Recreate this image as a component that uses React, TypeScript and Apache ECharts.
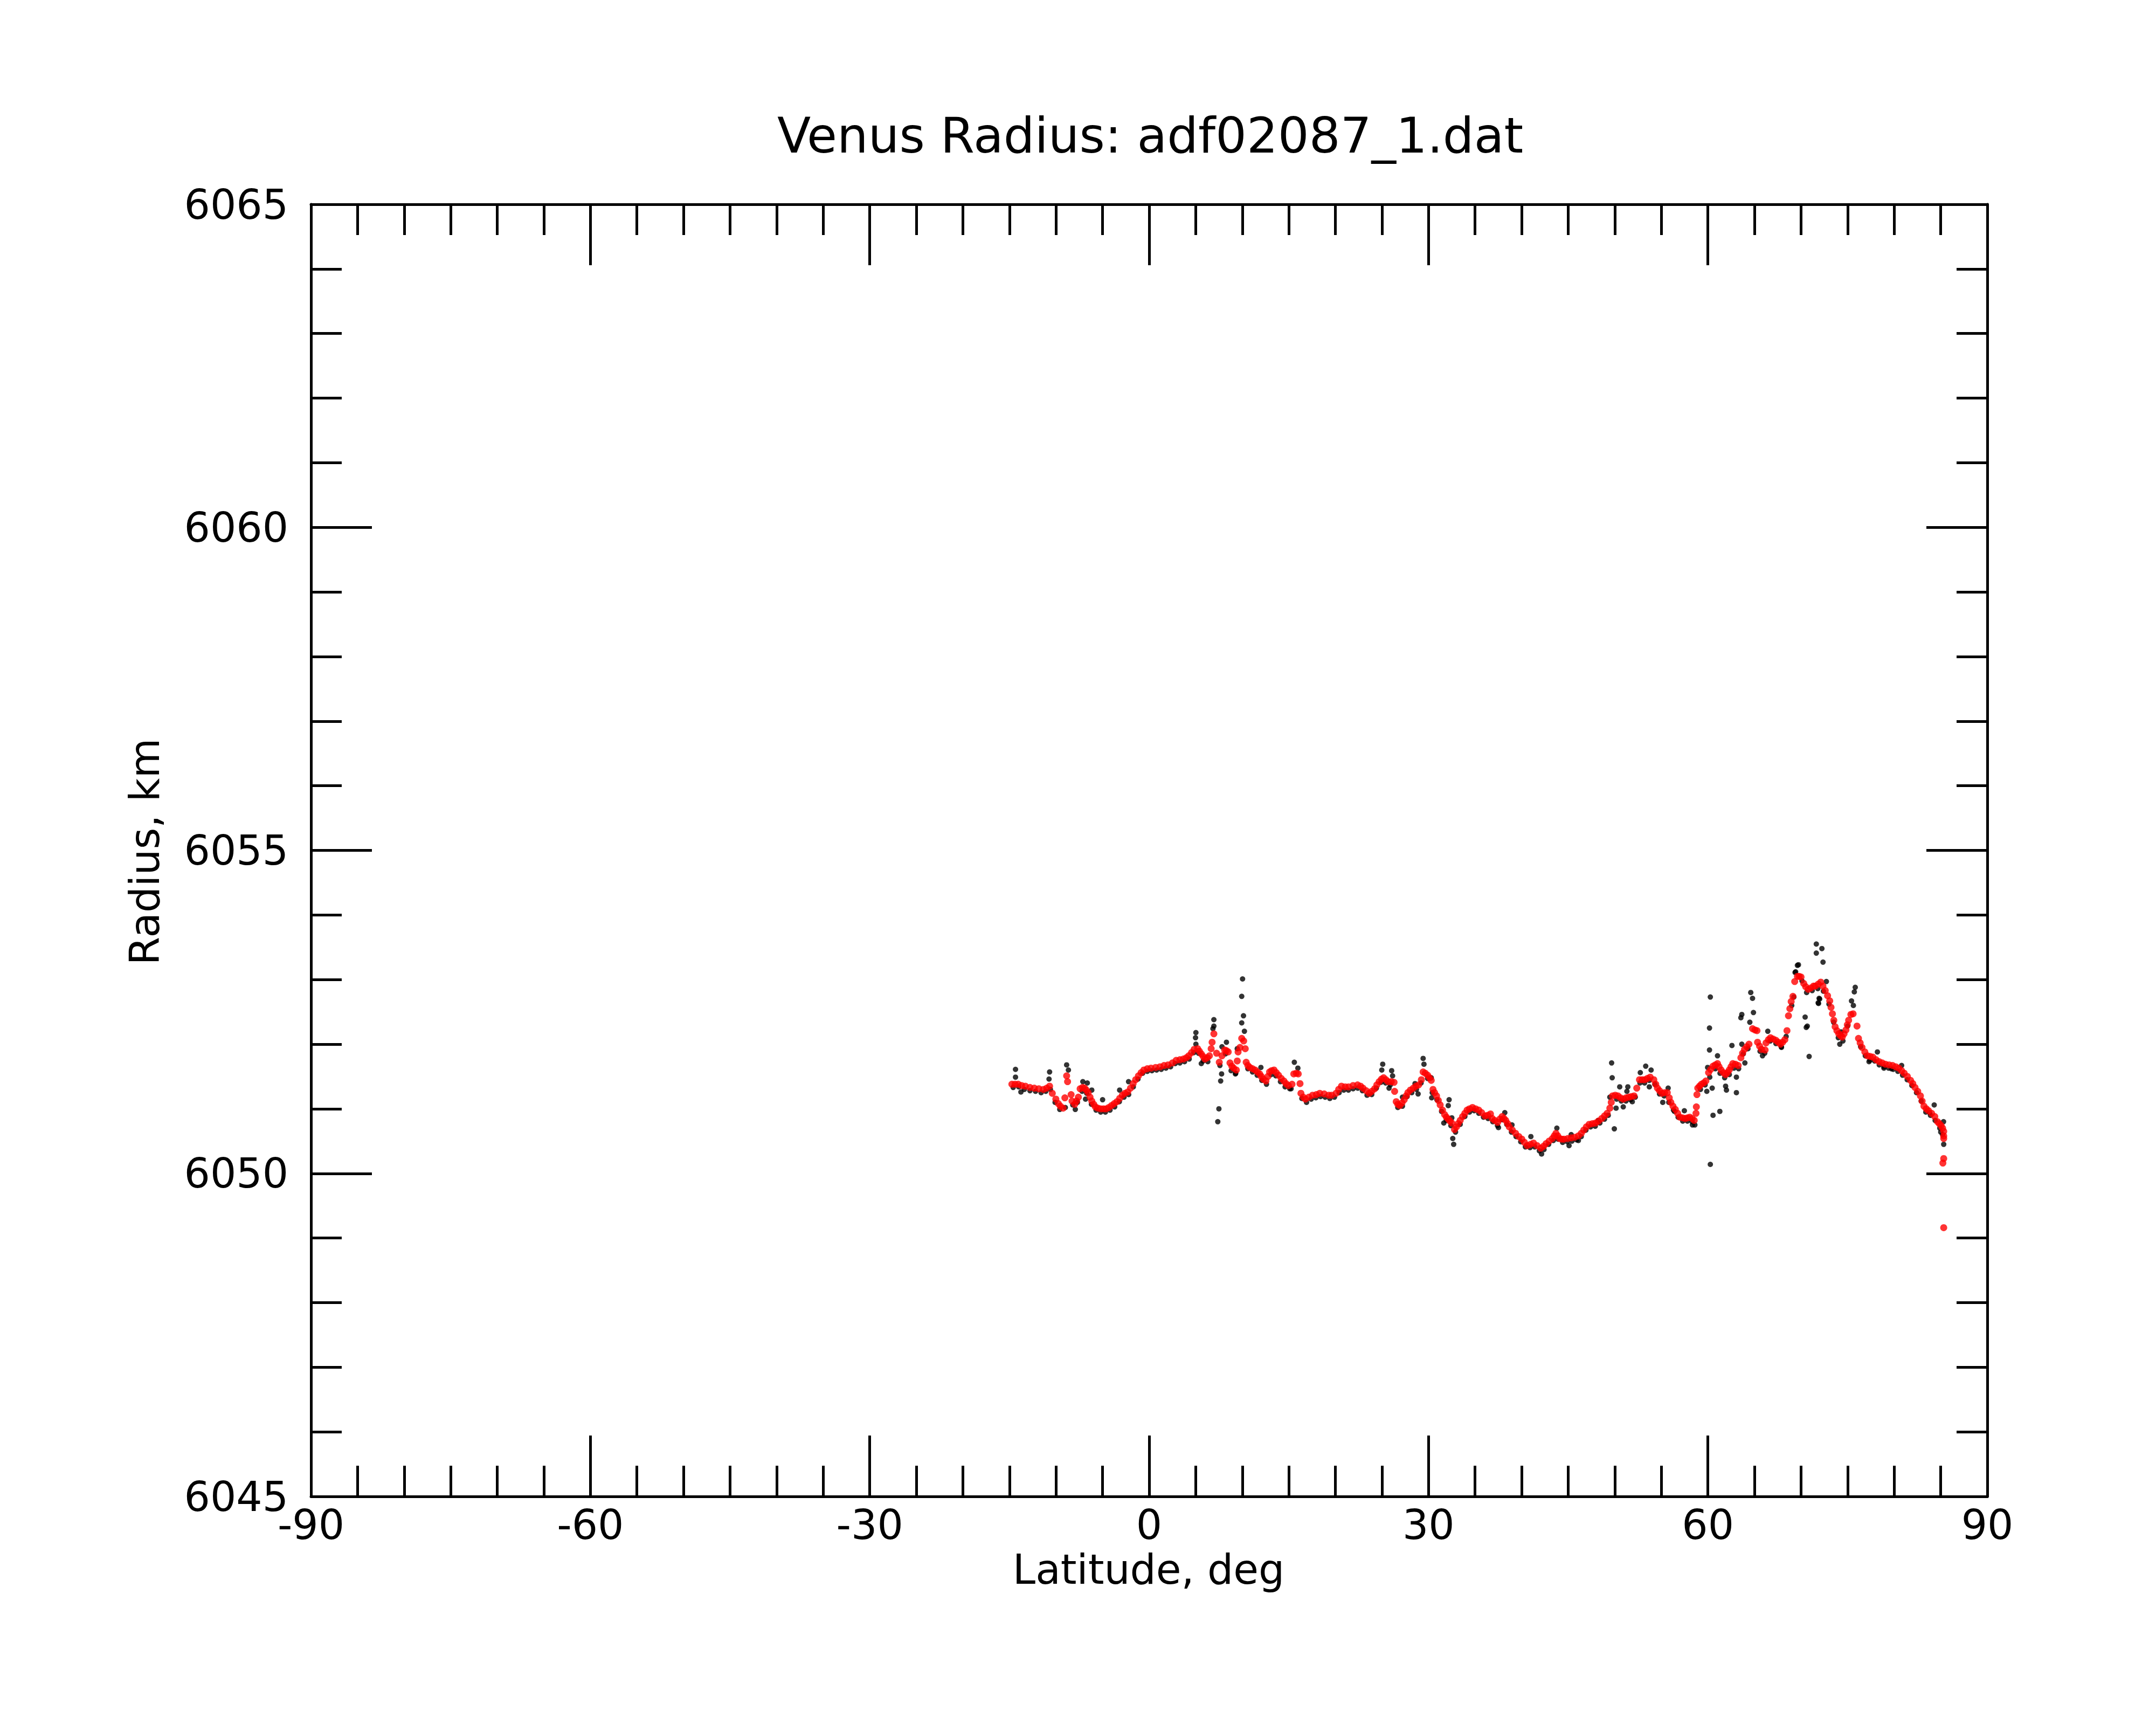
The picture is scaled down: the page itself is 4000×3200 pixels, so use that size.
import React, { useEffect, useRef } from "react";
import * as echarts from "echarts";

// Smoothed radius profile (red), [latitude deg, radius km]
const smoothed: [number, number][] = [
  [-14.74, 6051.38], [-14.4, 6051.38], [-14.06, 6051.38], [-13.7, 6051.36], [-13.29, 6051.35],
  [-12.8, 6051.33], [-12.33, 6051.32], [-11.85, 6051.31], [-11.36, 6051.3], [-11.0, 6051.32],
  [-10.69, 6051.35], [-10.4, 6051.24], [-10.02, 6051.15], [-9.75, 6051.08], [-9.53, 6051.04],
  [-9.24, 6051.01], [-9.05, 6051.17], [-8.86, 6051.51], [-8.76, 6051.42], [-8.38, 6051.22],
  [-8.28, 6051.12], [-7.99, 6051.07], [-7.8, 6051.12], [-7.6, 6051.18], [-7.41, 6051.31],
  [-7.15, 6051.33], [-6.93, 6051.32], [-6.75, 6051.29], [-6.55, 6051.25], [-6.35, 6051.18],
  [-6.16, 6051.12], [-5.95, 6051.07], [-5.77, 6051.03], [-5.5, 6051.01], [-5.2, 6051.0],
  [-4.9, 6051.0], [-4.62, 6051.0], [-4.33, 6051.02], [-4.04, 6051.05], [-3.75, 6051.08],
  [-3.46, 6051.11], [-3.17, 6051.16], [-2.88, 6051.21], [-2.6, 6051.24], [-2.3, 6051.26],
  [-2.0, 6051.32], [-1.72, 6051.39], [-1.45, 6051.45], [-1.15, 6051.51], [-0.86, 6051.56],
  [-0.57, 6051.6], [-0.2, 6051.62], [0.2, 6051.63], [0.7, 6051.64], [1.17, 6051.65],
  [1.6, 6051.67], [2.03, 6051.68], [2.5, 6051.71], [2.9, 6051.75], [3.3, 6051.76],
  [3.67, 6051.77], [4.0, 6051.79], [4.25, 6051.82], [4.55, 6051.87], [4.83, 6051.92],
  [5.21, 6051.93], [5.4, 6051.89], [5.6, 6051.85], [5.8, 6051.81], [5.99, 6051.77],
  [6.25, 6051.79], [6.47, 6051.82], [6.66, 6051.93], [6.76, 6052.03], [6.95, 6052.16],
  [7.24, 6051.86], [7.53, 6051.72], [7.82, 6051.82], [8.11, 6051.91], [8.3, 6051.9],
  [8.49, 6051.88], [8.68, 6051.71], [8.88, 6051.66], [9.07, 6051.63], [9.36, 6051.6],
  [9.46, 6051.74], [9.55, 6051.88], [9.75, 6051.95], [9.94, 6052.09], [10.15, 6052.05],
  [10.32, 6051.93], [10.42, 6051.72], [10.6, 6051.67], [10.81, 6051.64], [11.1, 6051.62],
  [11.38, 6051.6], [11.62, 6051.57], [11.87, 6051.54], [12.05, 6051.5], [12.25, 6051.46],
  [12.54, 6051.43], [12.75, 6051.5], [12.93, 6051.57], [13.15, 6051.59], [13.41, 6051.6],
  [13.65, 6051.56], [13.89, 6051.52], [14.18, 6051.47], [14.47, 6051.43], [14.7, 6051.39],
  [14.95, 6051.36], [15.34, 6051.38], [15.53, 6051.54], [15.8, 6051.55], [16.01, 6051.54],
  [16.2, 6051.39], [16.3, 6051.24], [16.55, 6051.18], [16.78, 6051.15], [17.15, 6051.18],
  [17.55, 6051.21], [17.95, 6051.22], [18.32, 6051.24], [18.8, 6051.23], [19.29, 6051.21],
  [19.6, 6051.21], [20.07, 6051.24], [20.35, 6051.3], [20.65, 6051.35], [21.05, 6051.34],
  [21.42, 6051.34], [21.9, 6051.36], [22.38, 6051.37], [22.7, 6051.35], [22.96, 6051.32],
  [23.3, 6051.28], [23.63, 6051.24], [23.9, 6051.27], [24.21, 6051.31], [24.45, 6051.37],
  [24.7, 6051.42], [24.95, 6051.46], [25.18, 6051.48], [25.42, 6051.45], [25.66, 6051.42],
  [26.0, 6051.42], [26.3, 6051.41], [26.36, 6051.27], [26.53, 6051.11], [26.7, 6051.07],
  [26.91, 6051.05], [27.15, 6051.09], [27.39, 6051.14], [27.6, 6051.2], [27.78, 6051.25],
  [28.05, 6051.29], [28.36, 6051.32], [28.65, 6051.35], [28.94, 6051.37], [29.23, 6051.45],
  [29.42, 6051.57], [29.65, 6051.55], [29.9, 6051.52], [30.1, 6051.48], [30.29, 6051.44],
  [30.48, 6051.3], [30.65, 6051.25], [30.86, 6051.2], [31.05, 6051.13], [31.25, 6051.06],
  [31.5, 6050.98], [31.73, 6050.91], [31.92, 6050.87], [32.12, 6050.84], [32.3, 6050.81],
  [32.5, 6050.78], [32.79, 6050.68], [33.0, 6050.72], [33.18, 6050.77], [33.4, 6050.82],
  [33.66, 6050.88], [33.9, 6050.93], [34.14, 6050.98], [34.4, 6051.0], [34.72, 6051.02],
  [35.05, 6051.0], [35.39, 6050.98], [35.7, 6050.94], [36.07, 6050.89], [36.35, 6050.9],
  [36.65, 6050.92], [36.84, 6050.85], [37.1, 6050.82], [37.42, 6050.79], [37.65, 6050.84],
  [37.9, 6050.88], [38.1, 6050.85], [38.29, 6050.82], [38.5, 6050.77], [38.67, 6050.72],
  [39.0, 6050.67], [39.35, 6050.62], [39.7, 6050.57], [40.02, 6050.53], [40.3, 6050.48],
  [40.6, 6050.43], [40.95, 6050.45], [41.27, 6050.47], [41.65, 6050.43], [42.05, 6050.39],
  [42.35, 6050.42], [42.62, 6050.46], [42.95, 6050.5], [43.3, 6050.54], [43.5, 6050.58],
  [43.68, 6050.62], [43.88, 6050.58], [44.07, 6050.54], [44.3, 6050.53], [44.55, 6050.53],
  [44.95, 6050.54], [45.32, 6050.55], [45.7, 6050.56], [46.09, 6050.58], [46.4, 6050.62],
  [46.67, 6050.67], [46.95, 6050.72], [47.25, 6050.76], [47.6, 6050.77], [47.93, 6050.78],
  [48.25, 6050.81], [48.6, 6050.85], [48.9, 6050.89], [49.18, 6050.93], [49.47, 6051.01],
  [49.62, 6051.1], [49.76, 6051.2], [50.05, 6051.21], [50.34, 6051.2], [50.62, 6051.17],
  [50.91, 6051.15], [51.2, 6051.17], [51.49, 6051.18], [51.78, 6051.19], [52.07, 6051.2],
  [52.36, 6051.32], [52.65, 6051.45], [52.95, 6051.45], [53.23, 6051.45], [53.5, 6051.47],
  [53.8, 6051.49], [54.19, 6051.45], [54.4, 6051.38], [54.58, 6051.32], [54.8, 6051.28],
  [55.06, 6051.24], [55.35, 6051.25], [55.64, 6051.25], [55.85, 6051.17], [56.02, 6051.1],
  [56.25, 6051.04], [56.5, 6050.99], [56.75, 6050.93], [56.99, 6050.87], [57.28, 6050.86],
  [57.56, 6050.85], [57.8, 6050.86], [58.05, 6050.87], [58.3, 6050.85], [58.53, 6050.82],
  [58.72, 6050.93], [58.76, 6051.03], [58.82, 6051.22], [58.91, 6051.32], [59.1, 6051.35],
  [59.3, 6051.38], [59.55, 6051.4], [59.78, 6051.43], [60.07, 6051.56], [60.3, 6051.61],
  [60.55, 6051.66], [60.8, 6051.68], [61.03, 6051.7], [61.2, 6051.65], [61.42, 6051.6],
  [61.65, 6051.56], [61.9, 6051.53], [62.1, 6051.56], [62.29, 6051.6], [62.48, 6051.65],
  [62.67, 6051.7], [62.95, 6051.69], [63.25, 6051.67], [63.54, 6051.79], [63.72, 6051.86],
  [63.93, 6051.92], [64.17, 6051.96], [64.41, 6052.0], [64.79, 6052.24], [65.05, 6052.22],
  [65.27, 6052.21], [65.33, 6052.03], [65.55, 6051.97], [65.76, 6051.92], [66.14, 6051.91],
  [66.24, 6052.02], [66.5, 6052.07], [66.72, 6052.1], [67.0, 6052.08], [67.3, 6052.06],
  [67.55, 6052.03], [67.78, 6052.0], [68.02, 6052.03], [68.26, 6052.07], [68.49, 6052.21],
  [68.65, 6052.44], [68.8, 6052.55], [68.94, 6052.66], [69.13, 6052.74], [69.32, 6052.97],
  [69.61, 6053.05], [69.8, 6053.05], [70.0, 6053.04], [70.29, 6052.94], [70.5, 6052.89],
  [70.77, 6052.85], [71.05, 6052.87], [71.35, 6052.9], [71.54, 6052.9], [71.85, 6052.93],
  [72.12, 6052.96], [72.35, 6052.9], [72.6, 6052.83], [72.85, 6052.75], [73.08, 6052.67],
  [73.22, 6052.57], [73.37, 6052.47], [73.52, 6052.37], [73.66, 6052.27], [73.85, 6052.21],
  [74.05, 6052.16], [74.25, 6052.13], [74.43, 6052.11], [74.62, 6052.16], [74.82, 6052.22],
  [74.97, 6052.3], [75.11, 6052.37], [75.35, 6052.46], [75.59, 6052.47], [76.01, 6052.28],
  [76.17, 6052.09], [76.35, 6052.02], [76.55, 6051.95], [76.85, 6051.88], [77.13, 6051.82],
  [77.42, 6051.81], [77.71, 6051.8], [78.05, 6051.76], [78.38, 6051.73], [78.72, 6051.71],
  [79.06, 6051.69], [79.45, 6051.68], [79.83, 6051.67], [80.17, 6051.65], [80.5, 6051.63],
  [80.8, 6051.59], [81.08, 6051.55], [81.42, 6051.5], [81.76, 6051.44], [82.0, 6051.39],
  [82.24, 6051.33], [82.53, 6051.27], [82.82, 6051.2], [83.0, 6051.12], [83.2, 6051.04],
  [83.45, 6051.0], [83.69, 6050.97], [84.02, 6050.93], [84.36, 6050.88], [84.65, 6050.8],
  [84.85, 6050.77], [85.04, 6050.74], [85.2, 6050.7], [85.32, 6050.65], [85.32, 6050.58],
  [85.32, 6050.54], [85.32, 6050.23], [85.23, 6050.16], [85.32, 6049.16],
];

// Raw measurements lying along the profile (black)
const rawTrack: [number, number][] = [
  [-14.6, 6051.33], [-14.0, 6051.34], [-13.4, 6051.3], [-12.8, 6051.28], [-12.2, 6051.27],
  [-11.6, 6051.25], [-11.1, 6051.27], [-10.6, 6051.3], [-10.1, 6051.1], [-9.6, 6050.99],
  [-9.0, 6051.02], [-8.2, 6051.06], [-7.7, 6051.1], [-7.2, 6051.27], [-6.7, 6051.24],
  [-6.2, 6051.07], [-5.7, 6050.98], [-5.2, 6050.95], [-4.7, 6050.95], [-4.2, 6050.98],
  [-3.7, 6051.03], [-3.2, 6051.11], [-2.7, 6051.18], [-2.2, 6051.22], [-1.7, 6051.34],
  [-1.2, 6051.46], [-0.7, 6051.55], [-0.2, 6051.58], [0.3, 6051.59], [0.8, 6051.6],
  [1.3, 6051.61], [1.8, 6051.63], [2.3, 6051.65], [2.8, 6051.7], [3.3, 6051.71],
  [3.8, 6051.73], [4.3, 6051.77], [4.8, 6051.87], [5.3, 6051.86], [5.8, 6051.74],
  [6.3, 6051.73], [7.6, 6051.67], [8.2, 6051.85], [8.8, 6051.59], [9.3, 6051.55],
  [10.6, 6051.62], [11.1, 6051.57], [11.6, 6051.52], [12.1, 6051.44], [12.6, 6051.38],
  [13.1, 6051.53], [13.6, 6051.51], [14.1, 6051.42], [14.6, 6051.34], [15.1, 6051.31],
  [16.4, 6051.16], [16.9, 6051.1], [17.4, 6051.15], [17.9, 6051.17], [18.4, 6051.19],
  [18.9, 6051.18], [19.4, 6051.16], [19.9, 6051.18], [20.4, 6051.25], [20.9, 6051.29],
  [21.4, 6051.29], [21.9, 6051.31], [22.4, 6051.32], [22.9, 6051.28], [23.4, 6051.21],
  [23.9, 6051.22], [24.4, 6051.32], [24.9, 6051.41], [25.4, 6051.4], [25.9, 6051.37],
  [26.7, 6051.02], [27.2, 6051.04], [27.7, 6051.19], [28.2, 6051.25], [28.7, 6051.3],
  [29.2, 6051.4], [29.9, 6051.47], [30.4, 6051.25], [30.9, 6051.14], [31.4, 6050.96],
  [31.9, 6050.82], [32.4, 6050.74], [32.9, 6050.64], [33.4, 6050.76], [33.9, 6050.88],
  [34.4, 6050.95], [34.9, 6050.97], [35.4, 6050.93], [35.9, 6050.87], [36.4, 6050.85],
  [36.9, 6050.8], [37.4, 6050.74], [37.9, 6050.83], [38.4, 6050.76], [38.9, 6050.64],
  [39.4, 6050.57], [39.9, 6050.49], [40.4, 6050.41], [40.9, 6050.4], [41.4, 6050.41],
  [41.9, 6050.35], [42.4, 6050.37], [42.9, 6050.45], [43.4, 6050.51], [43.9, 6050.53],
  [44.4, 6050.48], [44.9, 6050.49], [45.4, 6050.5], [45.9, 6050.52], [46.4, 6050.57],
  [46.9, 6050.67], [47.4, 6050.72], [47.9, 6050.73], [48.4, 6050.78], [48.9, 6050.84],
  [49.3, 6050.9], [50.2, 6051.15], [50.7, 6051.12], [51.2, 6051.12], [51.7, 6051.14],
  [52.2, 6051.18], [52.7, 6051.4], [53.2, 6051.4], [53.7, 6051.44], [54.3, 6051.38],
  [54.8, 6051.23], [55.3, 6051.2], [55.8, 6051.1], [56.3, 6050.98], [56.8, 6050.87],
  [57.3, 6050.81], [57.8, 6050.81], [58.3, 6050.8], [58.6, 6050.75], [59.2, 6051.3],
  [59.7, 6051.37], [60.2, 6051.49], [60.8, 6051.62], [61.3, 6051.55], [61.8, 6051.48],
  [62.3, 6051.53], [62.8, 6051.63], [63.3, 6051.62], [63.8, 6051.85], [64.3, 6051.93],
  [65.6, 6051.89], [66.1, 6051.86], [66.7, 6052.05], [67.3, 6052.01], [67.9, 6051.95],
  [68.4, 6052.12], [69.0, 6052.6], [70.1, 6052.98], [70.6, 6052.8], [71.2, 6052.83],
  [71.8, 6052.86], [72.4, 6052.82], [73.0, 6052.62], [73.5, 6052.34], [74.0, 6052.1],
  [74.5, 6052.05], [75.0, 6052.28], [76.4, 6051.96], [76.9, 6051.82], [77.4, 6051.75],
  [77.9, 6051.74], [78.4, 6051.68], [78.9, 6051.65], [79.4, 6051.63], [79.9, 6051.61],
  [80.4, 6051.58], [80.9, 6051.52], [81.4, 6051.45], [81.9, 6051.36], [82.4, 6051.25],
  [82.9, 6051.12], [83.4, 6050.95], [83.9, 6050.9], [84.4, 6050.82], [84.9, 6050.7],
  [85.2, 6050.6],
];

// Scattered raw measurements away from the profile (black)
const rawOutliers: [number, number][] = [
  [-14.35, 6051.61], [-14.35, 6051.49], [-13.77, 6051.26], [-10.69, 6051.57], [-10.75, 6051.46],
  [-8.86, 6051.68], [-8.67, 6051.6], [-7.93, 6050.99], [-7.12, 6051.42], [-6.64, 6051.4],
  [-6.16, 6051.29], [-6.83, 6051.15], [-5.0, 6051.14], [-3.17, 6051.29], [-2.21, 6051.42],
  [5.02, 6052.18], [4.98, 6052.1], [5.02, 6052.0], [6.85, 6052.24], [6.95, 6052.28],
  [6.95, 6052.38], [7.37, 6050.8], [7.49, 6051.0], [7.68, 6051.43], [7.78, 6051.54],
  [7.82, 6051.96], [8.3, 6052.03], [9.26, 6051.54], [9.46, 6051.93], [9.94, 6052.33],
  [9.94, 6052.74], [10.03, 6053.01], [10.13, 6052.44], [10.23, 6052.2], [5.6, 6051.7],
  [12.0, 6051.64], [15.24, 6051.31], [15.59, 6051.72], [15.97, 6051.63],
  [24.98, 6051.6], [25.08, 6051.69], [25.76, 6051.32], [26.04, 6051.59], [26.14, 6051.51],
  [27.2, 6051.18], [28.55, 6051.39], [28.88, 6051.23], [29.42, 6051.78], [29.51, 6051.69],
  [30.29, 6051.48], [30.34, 6051.17], [31.64, 6050.78], [32.12, 6051.05], [32.21, 6051.14],
  [32.5, 6050.86], [32.6, 6050.54], [32.7, 6050.45],
  [37.51, 6050.71], [38.19, 6050.94], [38.96, 6050.75], [40.99, 6050.57], [42.14, 6050.3],
  [43.78, 6050.7], [45.09, 6050.43], [45.32, 6050.6], [46.09, 6050.51], [48.21, 6050.82],
  [49.47, 6051.18], [49.66, 6051.71], [49.72, 6051.48], [49.95, 6050.69], [50.14, 6051.01],
  [50.53, 6051.34], [50.91, 6051.03], [51.3, 6051.27], [51.4, 6051.34], [51.88, 6051.11],
  [52.74, 6051.56], [53.32, 6051.66], [53.71, 6051.34], [53.9, 6051.6],
  [55.15, 6051.1], [55.73, 6051.32], [56.41, 6050.96], [57.47, 6050.97], [58.34, 6050.75],
  [59.88, 6051.27], [59.97, 6051.64], [60.17, 6051.91], [60.17, 6052.25], [60.26, 6052.73],
  [60.26, 6050.14], [60.46, 6051.32], [60.55, 6050.9], [61.03, 6051.82], [61.28, 6050.96],
  [61.9, 6051.35], [61.99, 6051.29], [62.58, 6051.98], [63.06, 6051.25], [63.06, 6051.49],
  [63.54, 6052.41], [63.64, 6052.46], [63.64, 6052.0], [63.97, 6051.71], [64.5, 6052.34],
  [64.6, 6052.8], [64.79, 6052.71], [64.89, 6052.49], [65.86, 6051.82], [66.43, 6052.2],
  [67.88, 6051.96], [69.23, 6052.73], [69.36, 6053.11], [69.42, 6053.12], [69.61, 6053.22],
  [69.72, 6053.23], [70.44, 6052.42], [70.56, 6052.26], [70.67, 6052.28], [70.87, 6051.81],
  [71.64, 6053.55], [71.64, 6053.41], [72.24, 6053.48], [72.36, 6053.27], [72.72, 6052.97],
  [71.88, 6052.63], [72.0, 6052.7], [71.84, 6052.64], [71.94, 6052.71],
  [74.16, 6052.0], [74.3, 6052.19], [75.42, 6052.67], [75.62, 6052.6], [75.72, 6052.81],
  [75.82, 6052.88], [77.3, 6051.73], [78.2, 6051.88], [78.9, 6051.63], [79.7, 6051.62],
  [80.8, 6051.67], [83.8, 6050.94], [84.3, 6051.06], [85.0, 6050.64], [85.3, 6050.8],
  [85.32, 6050.45],
];

const titleText = "Venus Radius: adf02087_1.dat";
const xName = "Latitude, deg";
const yName = "Radius, km";

const FONT = "DejaVu Sans";

export default function App() {
  const ref = useRef<HTMLDivElement>(null);

  useEffect(() => {
    document.body.style.margin = "0";
    if (!ref.current) return;
    const chart = echarts.init(ref.current, null, { renderer: "svg" });

    const line = { color: "#000", width: 5 };
    const mkX = (pos: "bottom" | "top", labels: boolean) => ({
      type: "value",
      position: pos,
      min: -90,
      max: 90,
      interval: 30,
      axisLine: { show: true, onZero: false, lineStyle: line },
      axisTick: { show: true, inside: true, length: 113, lineStyle: line },
      minorTick: { show: true, splitNumber: 6, length: 57, lineStyle: line },
      splitLine: { show: false },
      minorSplitLine: { show: false },
      axisLabel: {
        show: labels,
        fontSize: 76,
        fontFamily: FONT,
        color: "#000",
        margin: 14,
        formatter: (v: number) => String(v),
      },
    });
    const mkY = (pos: "left" | "right", labels: boolean) => ({
      type: "value",
      position: pos,
      min: 6045,
      max: 6065,
      interval: 5,
      axisLine: { show: true, onZero: false, lineStyle: line },
      axisTick: { show: true, inside: true, length: 113, lineStyle: line },
      minorTick: { show: true, splitNumber: 5, length: 57, lineStyle: line },
      splitLine: { show: false },
      minorSplitLine: { show: false },
      axisLabel: {
        show: labels,
        fontSize: 76,
        fontFamily: FONT,
        color: "#000",
        margin: 42,
        formatter: (v: number) => String(v),
      },
    });

    chart.setOption({
      animation: false,
      backgroundColor: "#fff",
      grid: { left: 577, right: 313, top: 379, bottom: 424, containLabel: false },
      xAxis: [mkX("bottom", true), mkX("top", false)],
      yAxis: [mkY("left", true), mkY("right", false)],
      graphic: [
        {
          type: "text",
          x: 2134,
          y: 251,
          style: {
            text: titleText,
            fontSize: 91,
            fontFamily: FONT,
            fill: "#000",
            textAlign: "center",
            textVerticalAlign: "middle",
          },
        },
        {
          type: "text",
          x: 2131,
          y: 2911,
          style: {
            text: xName,
            fontSize: 76,
            fontFamily: FONT,
            fill: "#000",
            textAlign: "center",
            textVerticalAlign: "middle",
          },
        },
        {
          type: "text",
          x: 268,
          y: 1580,
          rotation: Math.PI / 2,
          style: {
            text: yName,
            fontSize: 76,
            fontFamily: FONT,
            fill: "#000",
            textAlign: "center",
            textVerticalAlign: "middle",
          },
        },
      ],
      series: [
        {
          type: "scatter",
          xAxisIndex: 0,
          yAxisIndex: 0,
          data: rawTrack,
          symbol: "circle",
          symbolSize: 10,
          itemStyle: { color: "#000" },
          silent: true,
        },
        {
          type: "scatter",
          xAxisIndex: 0,
          yAxisIndex: 0,
          data: rawOutliers,
          symbol: "circle",
          symbolSize: 10,
          itemStyle: { color: "#000" },
          silent: true,
        },
        {
          type: "scatter",
          xAxisIndex: 0,
          yAxisIndex: 0,
          data: smoothed,
          symbol: "circle",
          symbolSize: 13,
          itemStyle: { color: "#ff0000" },
          silent: true,
        },
      ],
    });

    return () => chart.dispose();
  }, []);

  return <div ref={ref} style={{ width: 4000, height: 3200 }} />;
}
